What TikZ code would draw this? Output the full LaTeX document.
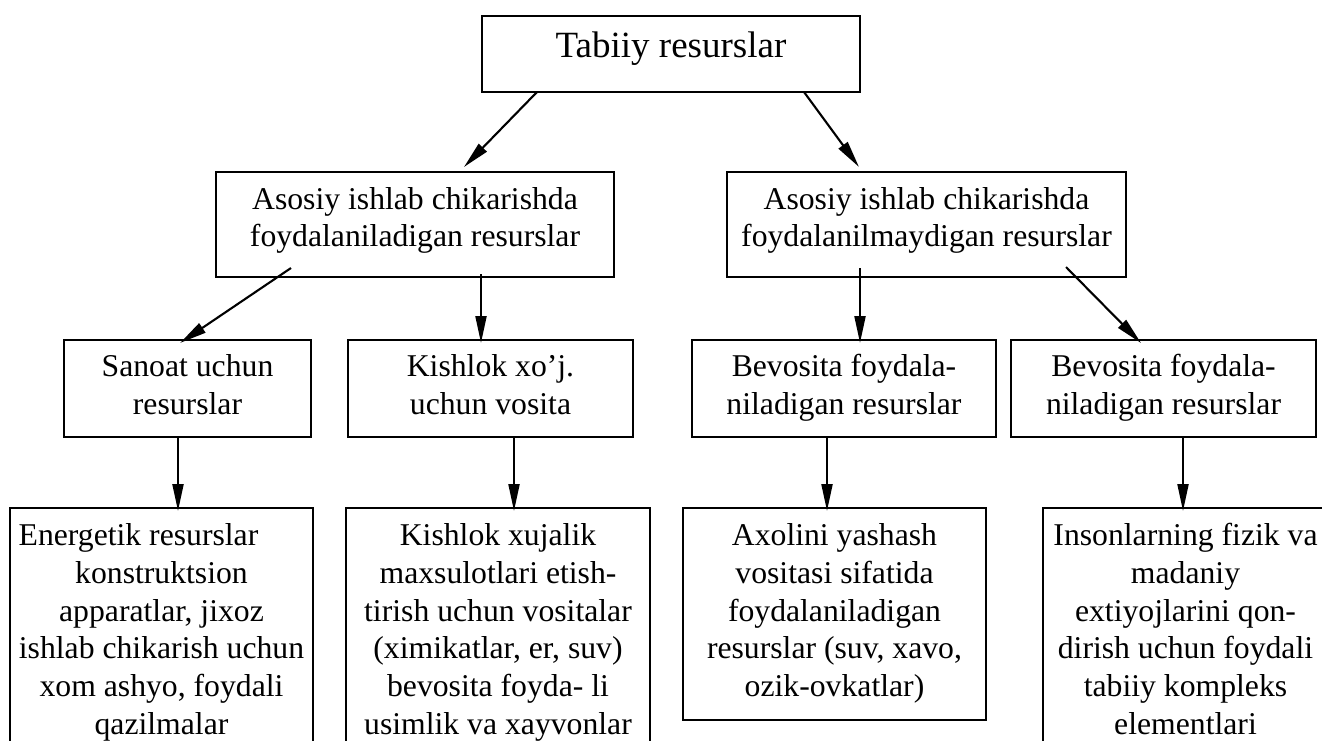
\documentclass[tikz,border=0pt]{standalone}
\usepackage{fontspec}
\setmainfont{Liberation Serif}
\usetikzlibrary{arrows.meta,calc}

\begin{document}
\begin{tikzpicture}[x=1pt,y=-1pt,
  box/.style={draw,line width=1.8pt,inner sep=0pt,outer sep=0pt},
  arr/.style={line width=2.1pt,-{Triangle[length=27pt,width=11pt]}},
  ttxt/.style={inner sep=0pt,font=\fontsize{37}{44}\selectfont},
  txt/.style={inner sep=0pt,align=center,anchor=north,font=\fontsize{31.7}{37.2}\selectfont},
  btxt/.style={txt,font=\fontsize{31.7}{37.7}\selectfont}]
\useasboundingbox (0,0) rectangle (1322,740);
\clip (0,0) rectangle (1322,740);

% frames
\node[box,minimum width=378pt,minimum height=76pt]  (top)  at (671,54) {};
\node[box,minimum width=398pt,minimum height=105pt] (l2a)  at (415,224.5) {};
\node[box,minimum width=399pt,minimum height=105pt] (l2b)  at (926.5,224.5) {};
\node[box,minimum width=247pt,minimum height=97pt]  (san)  at (187.5,388.5) {};
\node[box,minimum width=285pt,minimum height=97pt]  (kis)  at (490.5,388.5) {};
\node[box,minimum width=304pt,minimum height=97pt]  (bev1) at (844,388.5) {};
\node[box,minimum width=305pt,minimum height=97pt]  (bev2) at (1163.5,388.5) {};
\node[box,minimum width=303pt,minimum height=252pt] (ene)  at (161.5,634) {};
\node[box,minimum width=304pt,minimum height=252pt] (xuj)  at (498,634) {};
\node[box,minimum width=303pt,minimum height=212pt] (axo)  at (834.5,614) {};
\node[box,minimum width=286pt,minimum height=252pt] (ins)  at (1186,634) {};

% labels
\node[ttxt,anchor=base] (ttop) at (671,57) {Tabiiy resurslar};
\node[txt] (tl2a) at (415,183.1) {\strut Asosiy ishlab chikarishda\\foydalaniladigan resurslar};
\node[txt] (tl2b) at (926.5,183.1) {\strut Asosiy ishlab chikarishda\\foydalanilmaydigan resurslar};
\node[txt] (tsan) at (187.5,350.7) {\strut Sanoat uchun\\resurslar};
\node[txt] (tkis) at (490.5,350.7) {\strut Kishlok xo’j.\\uchun vosita};
\node[txt] (tbev1) at (844,350.7) {\strut Bevosita foydala-\\niladigan resurslar};
\node[txt] (tbev2) at (1163.5,350.7) {\strut Bevosita foydala-\\niladigan resurslar};
\node[btxt] (tene) at (161.5,519.1) {\strut Energetik resurslar\kern46pt\\konstruktsion\\apparatlar, jixoz\\ishlab chikarish uchun\\xom ashyo, foydali\\qazilmalar};
\node[btxt] (txuj) at (498,519.1) {\strut Kishlok xujalik\\maxsulotlari etish-\\tirish uchun vositalar\\(ximikatlar, er, suv)\\bevosita foyda- li\\usimlik va xayvonlar};
\node[btxt] (taxo) at (834.5,519.1) {\strut Axolini yashash\\vositasi sifatida\\foydalaniladigan\\resurslar (suv, xavo,\\ozik-ovkatlar)};
\node[btxt] (tins) at (1185.5,519.1) {\strut Insonlarning fizik va\\madaniy\\extiyojlarini qon-\\dirish uchun foydali\\tabiiy kompleks\\elementlari};

% connectors
\draw[arr] ($(top.south)+(-134,0)$) -- ($(l2a.north)+(49,-5)$);
\draw[arr] ($(top.south)+(133,0)$) -- ($(l2b.north)+(-67.5,-5)$);
\draw[arr] ($(l2a.south)+(-124,-9)$) -- ($(san.north)+(-7.5,3)$);
\draw[arr] ($(l2a.south)+(66,-3)$) -- ($(kis.north)+(-9.5,3)$);
\draw[arr] ($(l2b.south)+(-66.5,-9)$) -- ($(bev1.north)+(16,3)$);
\draw[arr] ($(l2b.south)+(139.5,-10)$) -- ($(bev2.north)+(-22.5,3)$);
\draw[arr] ($(san.south)+(-9.5,0)$) -- ($(ene.north)+(16.5,3)$);
\draw[arr] ($(kis.south)+(23.5,0)$) -- ($(xuj.north)+(16,3)$);
\draw[arr] ($(bev1.south)+(-17,0)$) -- ($(axo.north)+(-7.5,3)$);
\draw[arr] ($(bev2.south)+(19.5,0)$) -- ($(ins.north)+(-3,3)$);
\end{tikzpicture}
\end{document}
